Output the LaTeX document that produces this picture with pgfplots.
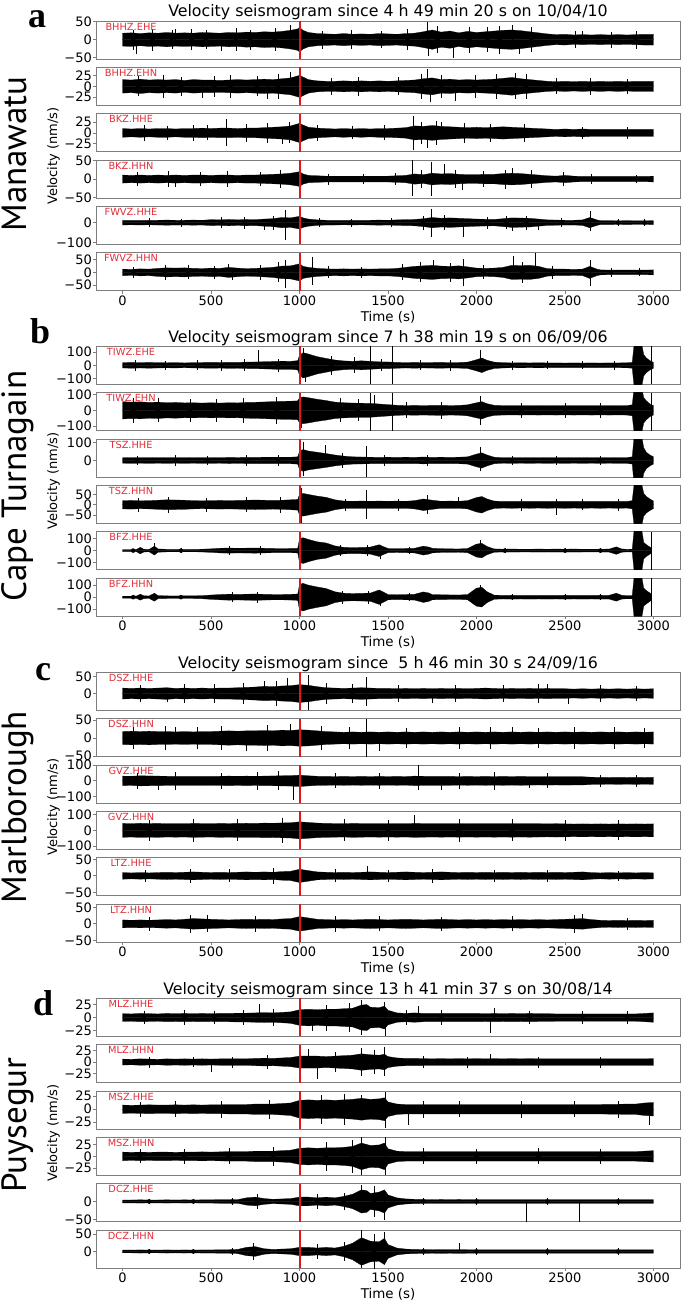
\documentclass[border=0pt]{standalone}
\usepackage{pgfplots}
\pgfplotsset{compat=1.18}
\usepackage{pgfplotstable}
\usepackage{fontspec}
\setmainfont{DejaVu Sans}
\newfontfamily\ptsans{PT Sans}
\newfontfamily\letterfont{Liberation Serif}
\definecolor{stared}{RGB}{225,45,55}
\definecolor{eqred}{RGB}{220,25,25}
\definecolor{spine}{RGB}{125,125,125}
\pgfplotsset{
 panel/.style={width=584pt,height=38pt,scale only axis,
   xmin=-150,xmax=3150,
   axis line style={spine,line width=0.8pt},
   tick style={spine,line width=0.8pt},
   major tick length=3pt, tick align=outside,
   xtick={0,500,1000,1500,2000,2500,3000},
   xticklabels={}, xtick pos=bottom, ytick pos=left,
   xmajorticks=false,
   yticklabel style={font=\fontsize{13}{13}\selectfont, inner sep=1pt},
   xticklabel style={font=\fontsize{13}{13}\selectfont, inner sep=2pt},
 },
 bottompanel/.style={xmajorticks=true, xticklabels={0,500,1000,1500,2000,2500,3000}},
 tr/.style={fill=black,draw=black,line width=0.25pt,mark=none},
 spk/.style={black,line width=0.5pt,mark=none,unbounded coords=jump},
 hairp/.style={black,only marks,mark=none,error bars/.cd,y dir=both,y explicit,error mark=none,error bar style={line width=0.4pt,black}},
}
\newcommand\trace[1]{\addplot[tr] table[x=t,y=a]{#1}\closedcycle;
 \addplot[tr] table[x=t,y expr=-\thisrow{a}]{#1}\closedcycle;}
\newcommand\hair[1]{\addplot[hairp] table[row sep=\\,x=t,y expr=0,y error=h]{t h\\#1};}
\newcommand\panel[8]{%
 \begin{axis}[panel,at={(96pt,-#1pt)},anchor=north west,ymin=#2,ymax=#3,ytick={#4},yticklabels={#5},#7]
 #8
 \addplot[eqred,line width=2pt] coordinates {(1000,#2) (1000,#3)};
 \node[anchor=north,inner sep=0pt,text=stared,font=\fontsize{9.8}{10}\selectfont] at (rel axis cs:0.06,0.955) {#6};
 \end{axis}}

% ---------- group a
\pgfplotstableread[row sep=\\]{t a\\0 18\\50 19\\100 17\\150 19\\200 18\\250 20\\300 18\\350 19\\400 18\\450 20\\500 19\\550 18\\600 20\\650 19\\700 21\\750 20\\800 22\\850 21\\900 23\\950 26\\990 30\\1000 34\\1020 26\\1050 20\\1100 17\\1150 16\\1200 15\\1250 17\\1300 15\\1350 16\\1400 15\\1450 17\\1500 16\\1550 15\\1600 17\\1650 18\\1700 22\\1750 27\\1800 21\\1850 24\\1900 19\\1950 23\\2000 20\\2050 22\\2100 24\\2150 26\\2200 27\\2250 25\\2300 22\\2350 19\\2400 16\\2450 14\\2500 15\\2550 13\\2600 14\\2650 13\\2700 14\\2750 13\\2800 14\\2850 13\\2900 14\\2950 15\\3000 15\\}\TAa
\pgfplotstableread[row sep=\\]{t a\\0 16\\50 15\\100 17\\150 15\\200 16\\250 15\\300 16\\350 14\\400 16\\450 15\\500 15\\550 14\\600 15\\650 16\\700 15\\750 16\\800 17\\850 16\\900 18\\950 20\\1000 26\\1020 22\\1050 16\\1100 13\\1150 12\\1200 12\\1250 13\\1300 12\\1350 13\\1400 12\\1450 13\\1500 12\\1550 13\\1600 14\\1650 15\\1700 18\\1750 20\\1800 16\\1850 17\\1900 15\\1950 16\\2000 15\\2050 16\\2100 17\\2150 19\\2200 21\\2250 18\\2300 16\\2350 14\\2400 12\\2450 11\\2500 12\\2550 11\\2600 12\\2650 11\\2700 12\\2750 11\\2800 12\\2850 11\\2900 12\\2950 12\\3000 12\\}\TAb
\pgfplotstableread[row sep=\\]{t a\\0 10\\50 9\\100 10\\150 9\\200 10\\250 10\\300 9\\350 10\\400 10\\450 11\\500 10\\550 11\\600 11\\650 10\\700 11\\750 11\\800 12\\850 13\\900 14\\950 16\\1000 22\\1020 18\\1050 13\\1100 11\\1150 10\\1200 9\\1250 10\\1300 9\\1350 10\\1400 9\\1450 10\\1500 10\\1550 11\\1600 12\\1650 16\\1700 15\\1750 17\\1800 15\\1850 14\\1900 13\\1950 12\\2000 13\\2050 12\\2100 13\\2150 14\\2200 13\\2250 12\\2300 11\\2350 10\\2400 9\\2450 8\\2500 9\\2550 8\\2600 9\\2650 8\\2700 8\\2750 8\\2800 8\\2850 8\\2900 8\\2950 8\\3000 8\\}\TAc
\pgfplotstableread[row sep=\\]{t a\\0 11\\50 10\\100 11\\150 10\\200 11\\250 10\\300 11\\350 10\\400 11\\450 11\\500 10\\550 11\\600 11\\650 10\\700 11\\750 11\\800 12\\850 13\\900 14\\950 16\\1000 20\\1020 14\\1050 10\\1100 9\\1150 8\\1200 8\\1250 8\\1300 8\\1350 8\\1400 8\\1450 8\\1500 8\\1550 9\\1600 10\\1650 14\\1700 12\\1750 16\\1800 14\\1850 15\\1900 13\\1950 12\\2000 12\\2050 13\\2100 13\\2150 15\\2200 16\\2250 15\\2300 13\\2350 11\\2400 9\\2450 8\\2500 10\\2550 8\\2600 7\\2650 7\\2700 7\\2750 7\\2800 7\\2850 7\\2900 7\\2950 7\\3000 8\\}\TAd
\pgfplotstableread[row sep=\\]{t a\\0 12\\50 11\\100 12\\150 11\\200 12\\250 13\\300 12\\350 12\\400 13\\450 12\\500 15\\550 14\\600 16\\650 14\\700 16\\750 15\\800 18\\850 20\\900 26\\950 24\\1000 32\\1020 24\\1050 18\\1100 14\\1150 12\\1200 12\\1250 11\\1300 12\\1350 11\\1400 12\\1450 13\\1500 12\\1550 14\\1600 15\\1650 16\\1700 20\\1750 26\\1800 22\\1850 24\\1900 22\\1950 20\\2000 18\\2050 17\\2100 16\\2150 20\\2200 24\\2250 23\\2300 22\\2350 18\\2400 14\\2450 13\\2500 12\\2550 12\\2600 14\\2640 26\\2680 14\\2700 10\\2750 10\\2800 9\\2850 10\\2900 9\\2950 9\\3000 10\\}\TAe
\pgfplotstableread[row sep=\\]{t a\\0 13\\50 12\\100 14\\150 13\\200 16\\250 18\\300 17\\350 18\\400 16\\450 15\\500 17\\550 16\\600 20\\650 17\\700 15\\750 16\\800 18\\850 20\\900 25\\950 26\\1000 34\\1020 24\\1050 20\\1100 16\\1150 14\\1200 13\\1250 14\\1300 13\\1350 14\\1400 13\\1450 14\\1500 14\\1550 16\\1600 20\\1650 24\\1700 26\\1750 28\\1800 25\\1850 24\\1900 26\\1950 22\\2000 17\\2050 16\\2100 17\\2150 20\\2200 28\\2250 27\\2300 28\\2350 24\\2400 15\\2450 13\\2500 13\\2550 12\\2600 13\\2640 24\\2680 13\\2700 10\\2750 9\\2800 9\\2850 9\\2900 9\\2950 9\\3000 10\\}\TAf
% ---------- group b
\pgfplotstableread[row sep=\\]{t a\\0 20\\50 22\\100 20\\150 22\\200 20\\250 19\\300 20\\350 18\\400 20\\450 21\\500 22\\550 21\\600 23\\650 22\\700 24\\750 25\\800 27\\850 29\\900 31\\950 30\\990 35\\1000 75\\1020 95\\1050 85\\1100 65\\1150 52\\1200 40\\1250 33\\1300 30\\1350 34\\1400 30\\1450 26\\1500 25\\1550 22\\1600 20\\1650 22\\1700 20\\1750 21\\1800 22\\1850 20\\1900 21\\1950 24\\2000 42\\2030 55\\2060 38\\2100 24\\2150 20\\2200 18\\2250 19\\2300 18\\2350 19\\2400 18\\2450 18\\2500 17\\2550 18\\2600 17\\2650 18\\2700 17\\2750 18\\2800 18\\2850 19\\2880 22\\2890 150\\2935 150\\2945 80\\2960 55\\2980 35\\3000 22\\}\TBa
\pgfplotstableread[row sep=\\]{t a\\0 55\\50 52\\100 54\\150 50\\200 52\\250 48\\300 50\\350 47\\400 48\\450 46\\500 48\\550 46\\600 48\\650 47\\700 50\\750 51\\800 53\\850 55\\900 57\\950 58\\990 60\\1000 80\\1020 85\\1050 80\\1100 70\\1150 62\\1200 52\\1250 48\\1300 46\\1350 45\\1400 44\\1450 40\\1500 36\\1550 32\\1600 30\\1650 31\\1700 30\\1750 31\\1800 32\\1850 30\\1900 31\\1950 35\\2000 48\\2030 55\\2060 42\\2100 32\\2150 30\\2200 29\\2250 30\\2300 29\\2350 30\\2400 29\\2450 30\\2500 29\\2550 30\\2600 29\\2650 30\\2700 29\\2750 30\\2800 29\\2850 30\\2880 35\\2890 135\\2935 135\\2945 80\\2960 60\\2980 40\\3000 30\\}\TBb
\pgfplotstableread[row sep=\\]{t a\\0 15\\50 16\\100 15\\150 16\\200 15\\250 16\\300 15\\350 16\\400 15\\450 16\\500 16\\550 15\\600 17\\650 16\\700 17\\750 17\\800 18\\850 18\\900 18\\950 18\\990 20\\1000 50\\1020 60\\1050 52\\1100 45\\1150 38\\1200 30\\1250 24\\1300 20\\1350 19\\1400 18\\1450 17\\1500 18\\1550 17\\1600 18\\1650 17\\1700 19\\1750 17\\1800 18\\1850 17\\1900 18\\1950 20\\2000 35\\2030 42\\2060 30\\2100 18\\2150 15\\2200 16\\2250 15\\2300 16\\2350 15\\2400 16\\2450 15\\2500 16\\2550 15\\2600 16\\2650 15\\2700 16\\2750 15\\2800 16\\2850 16\\2880 20\\2890 125\\2935 125\\2945 70\\2960 45\\2980 30\\3000 20\\}\TBc
\pgfplotstableread[row sep=\\]{t a\\0 20\\50 21\\100 19\\150 20\\200 22\\250 24\\300 23\\350 22\\400 20\\450 19\\500 20\\550 21\\600 20\\650 21\\700 22\\750 23\\800 22\\850 21\\900 22\\950 24\\990 26\\1000 50\\1020 55\\1050 50\\1100 42\\1150 36\\1200 24\\1250 18\\1300 17\\1350 18\\1400 17\\1450 18\\1500 17\\1550 18\\1600 17\\1650 20\\1700 28\\1750 22\\1800 17\\1850 18\\1900 17\\1950 20\\2000 35\\2030 40\\2060 28\\2100 18\\2150 16\\2200 17\\2250 16\\2300 17\\2350 16\\2400 17\\2450 16\\2500 17\\2550 16\\2600 17\\2650 16\\2700 17\\2750 16\\2800 17\\2850 16\\2880 20\\2890 95\\2935 95\\2945 55\\2960 40\\2980 28\\3000 18\\}\TBd
\pgfplotstableread[row sep=\\]{t a\\0 8\\50 8\\80 10\\100 28\\120 12\\150 10\\180 38\\200 14\\250 11\\300 10\\350 11\\400 10\\450 12\\500 15\\550 20\\600 22\\650 20\\700 21\\750 22\\800 20\\850 18\\900 17\\950 18\\990 20\\1000 100\\1020 110\\1050 95\\1100 75\\1150 65\\1200 40\\1250 28\\1300 25\\1350 27\\1400 30\\1450 50\\1480 30\\1500 18\\1550 16\\1600 18\\1650 20\\1700 38\\1730 30\\1750 20\\1800 16\\1850 15\\1900 14\\1950 18\\2000 55\\2030 62\\2060 35\\2100 14\\2150 12\\2200 13\\2250 12\\2300 12\\2350 13\\2400 12\\2450 13\\2500 12\\2550 13\\2600 12\\2650 12\\2700 12\\2750 13\\2790 32\\2820 14\\2850 11\\2880 12\\2890 165\\2935 165\\2945 70\\2960 50\\2980 30\\2990 20\\}\TBe
\pgfplotstableread[row sep=\\]{t a\\0 8\\50 8\\80 10\\100 25\\120 12\\150 10\\180 33\\200 13\\250 11\\300 10\\350 11\\400 11\\450 13\\500 18\\550 22\\600 25\\650 23\\700 25\\750 26\\800 24\\850 22\\900 22\\950 24\\990 26\\1000 105\\1020 115\\1050 100\\1100 85\\1150 72\\1200 45\\1250 33\\1300 30\\1350 32\\1400 34\\1450 60\\1480 38\\1500 22\\1550 20\\1600 22\\1650 24\\1700 44\\1730 35\\1750 22\\1800 20\\1850 19\\1900 18\\1950 22\\2000 75\\2030 82\\2060 45\\2100 17\\2150 15\\2200 16\\2250 15\\2300 16\\2350 15\\2400 16\\2450 15\\2500 16\\2550 15\\2600 16\\2650 15\\2700 16\\2750 16\\2790 33\\2820 16\\2850 13\\2880 14\\2890 160\\2935 160\\2945 75\\2960 55\\2980 35\\2990 22\\}\TBf
% ---------- group c
\pgfplotstableread[row sep=\\]{t a\\0 16\\50 15\\100 16\\150 15\\200 16\\250 17\\300 15\\350 16\\400 15\\450 16\\500 15\\550 16\\600 16\\650 17\\700 18\\750 19\\800 21\\850 20\\900 22\\950 23\\1000 26\\1050 24\\1100 20\\1150 17\\1200 16\\1250 15\\1300 16\\1350 17\\1400 16\\1450 15\\1500 15\\1550 14\\1600 15\\1650 14\\1700 15\\1750 14\\1800 15\\1850 14\\1900 15\\1950 14\\2000 15\\2050 16\\2100 15\\2150 14\\2200 15\\2250 14\\2300 15\\2350 14\\2400 15\\2450 14\\2500 14\\2550 13\\2600 14\\2650 13\\2700 14\\2750 13\\2800 14\\2850 13\\2900 14\\2950 13\\3000 14\\}\TCa
\pgfplotstableread[row sep=\\]{t a\\0 18\\50 19\\100 18\\150 19\\200 18\\250 18\\300 17\\350 18\\400 17\\450 18\\500 18\\550 19\\600 20\\650 19\\700 20\\750 20\\800 21\\850 20\\900 22\\950 21\\1000 23\\1050 22\\1100 20\\1150 18\\1200 17\\1250 16\\1300 17\\1350 16\\1400 17\\1450 16\\1500 17\\1550 16\\1600 17\\1650 16\\1700 17\\1750 16\\1800 17\\1850 16\\1900 17\\1950 16\\2000 17\\2050 16\\2100 17\\2150 16\\2200 17\\2250 16\\2300 17\\2350 16\\2400 17\\2450 16\\2500 17\\2550 16\\2600 17\\2650 16\\2700 17\\2750 16\\2800 17\\2850 16\\2900 17\\2950 16\\3000 17\\}\TCb
\pgfplotstableread[row sep=\\]{t a\\0 30\\50 29\\100 32\\150 31\\200 30\\250 29\\300 28\\350 29\\400 28\\450 29\\500 28\\550 29\\600 30\\650 29\\700 30\\750 29\\800 30\\850 31\\900 32\\950 33\\1000 36\\1050 32\\1100 29\\1150 28\\1200 27\\1250 28\\1300 27\\1350 28\\1400 27\\1450 28\\1500 27\\1550 28\\1600 27\\1650 30\\1700 29\\1750 28\\1800 29\\1850 28\\1900 27\\1950 28\\2000 27\\2050 28\\2100 27\\2150 28\\2200 27\\2250 28\\2300 27\\2350 26\\2400 27\\2450 26\\2500 27\\2550 26\\2600 26\\2650 23\\2700 22\\2750 21\\2800 22\\2850 21\\2900 22\\2950 21\\3000 22\\}\TCc
\pgfplotstableread[row sep=\\]{t a\\0 44\\50 42\\100 45\\150 43\\200 44\\250 42\\300 43\\350 42\\400 44\\450 43\\500 42\\550 44\\600 43\\650 44\\700 45\\750 44\\800 46\\850 45\\900 47\\950 48\\1000 54\\1050 50\\1100 46\\1150 44\\1200 43\\1250 42\\1300 44\\1350 43\\1400 42\\1450 43\\1500 42\\1550 43\\1600 42\\1650 44\\1700 43\\1750 42\\1800 43\\1850 42\\1900 43\\1950 42\\2000 43\\2050 42\\2100 43\\2150 42\\2200 43\\2250 42\\2300 43\\2350 42\\2400 41\\2450 42\\2500 41\\2550 40\\2600 41\\2650 40\\2700 41\\2750 40\\2800 41\\2850 40\\2900 41\\2950 40\\3000 41\\}\TCd
\pgfplotstableread[row sep=\\]{t a\\0 10\\50 9\\100 10\\150 9\\200 10\\250 11\\300 10\\350 11\\400 12\\450 11\\500 10\\550 11\\600 10\\650 11\\700 12\\750 11\\800 12\\850 11\\900 13\\950 14\\1000 20\\1050 16\\1100 12\\1150 11\\1200 10\\1250 11\\1300 10\\1350 11\\1400 12\\1450 11\\1500 10\\1550 11\\1600 12\\1650 11\\1700 10\\1750 11\\1800 12\\1850 11\\1900 10\\1950 11\\2000 10\\2050 11\\2100 10\\2150 11\\2200 10\\2250 11\\2300 10\\2350 11\\2400 10\\2450 11\\2500 10\\2550 11\\2600 12\\2650 10\\2700 9\\2750 10\\2800 9\\2850 10\\2900 9\\2950 10\\3000 9\\}\TCe
\pgfplotstableread[row sep=\\]{t a\\0 12\\50 11\\100 12\\150 11\\200 12\\250 13\\300 12\\350 14\\400 16\\450 15\\500 14\\550 13\\600 12\\650 13\\700 14\\750 13\\800 14\\850 13\\900 15\\950 16\\1000 22\\1050 18\\1100 14\\1150 13\\1200 12\\1250 13\\1300 12\\1350 13\\1400 14\\1450 13\\1500 12\\1550 13\\1600 14\\1650 13\\1700 12\\1750 13\\1800 14\\1850 13\\1900 12\\1950 13\\2000 12\\2050 13\\2100 12\\2150 13\\2200 12\\2250 13\\2300 12\\2350 13\\2400 12\\2450 13\\2500 14\\2550 15\\2600 16\\2650 13\\2700 11\\2750 10\\2800 11\\2850 10\\2900 11\\2950 10\\3000 11\\}\TCf
% ---------- group d
\pgfplotstableread[row sep=\\]{t a\\0 7.5\\50 7\\100 8\\150 7.5\\200 7\\250 8\\300 7.5\\350 8\\400 7.5\\450 8\\500 7.5\\550 8\\600 8\\650 8.5\\700 8.5\\750 9\\800 9.5\\850 9\\900 10\\950 11\\1000 15\\1050 16\\1100 15\\1150 16\\1200 16\\1250 17\\1300 18\\1350 24\\1380 25\\1400 20\\1450 19\\1480 22\\1500 14\\1550 9\\1600 8\\1650 9\\1700 8\\1750 8\\1800 8\\1850 8\\1900 8\\1950 8\\2000 8\\2050 7.5\\2100 8\\2150 7.5\\2200 8\\2250 7.5\\2300 8\\2350 7.5\\2400 7.5\\2450 7\\2500 7\\2550 7\\2600 7\\2650 7\\2700 7\\2750 7\\2800 7\\2850 7\\2900 7\\2950 8\\3000 9\\}\TDa
\pgfplotstableread[row sep=\\]{t a\\0 6.5\\50 6\\100 7\\150 6.5\\200 6\\250 7\\300 6.5\\350 7\\400 6.5\\450 7\\500 6.5\\550 7\\600 7\\650 7\\700 7\\750 8\\800 8.5\\850 8\\900 9\\950 10\\1000 13\\1050 13\\1100 13\\1150 12\\1200 13\\1250 14\\1300 15\\1350 18\\1400 16\\1450 15\\1480 17\\1500 12\\1550 9\\1600 8\\1650 8\\1700 7.5\\1750 7\\1800 7.5\\1850 7\\1900 7.5\\1950 7\\2000 7.5\\2050 7\\2100 7.5\\2150 7\\2200 7.5\\2250 7\\2300 7.5\\2350 7\\2400 7\\2450 7\\2500 7\\2550 7\\2600 7\\2650 7\\2700 7\\2750 7\\2800 7\\2850 7\\2900 7\\2950 7\\3000 7.5\\}\TDb
\pgfplotstableread[row sep=\\]{t a\\0 8\\50 7.5\\100 8\\150 8.5\\200 8\\250 8\\300 8.5\\350 8\\400 8.5\\450 8\\500 8.5\\550 8.5\\600 9\\650 9\\700 9\\750 10\\800 10\\850 10\\900 11\\950 12\\1000 17\\1050 18\\1100 17\\1150 18\\1200 17\\1250 18\\1300 19\\1350 21\\1400 19\\1450 20\\1480 22\\1500 14\\1550 10\\1600 9\\1650 9\\1700 9\\1750 9\\1800 9\\1850 9\\1900 9\\1950 9\\2000 9\\2050 9\\2100 9\\2150 9\\2200 9\\2250 9\\2300 9\\2350 9\\2400 9\\2450 9\\2500 9\\2550 9\\2600 9\\2650 9\\2700 9\\2750 9.5\\2800 9.5\\2850 10\\2900 10\\2950 12\\3000 13\\}\TDc
\pgfplotstableread[row sep=\\]{t a\\0 9\\50 8.5\\100 9\\150 8.5\\200 9\\250 9\\300 8.5\\350 9\\400 9\\450 9.5\\500 9\\550 9.5\\600 10\\650 10\\700 10\\750 11\\800 11\\850 11\\900 12\\950 13\\1000 17\\1050 18\\1100 17\\1150 18\\1200 18\\1250 19\\1300 21\\1350 28\\1400 23\\1450 24\\1480 28\\1500 16\\1550 11\\1600 10\\1650 10\\1700 10\\1750 10\\1800 10\\1850 10\\1900 10\\1950 10\\2000 10\\2050 10\\2100 10\\2150 10\\2200 10\\2250 10\\2300 10\\2350 10\\2400 10\\2450 10\\2500 10\\2550 10\\2600 10\\2650 10\\2700 10\\2750 10\\2800 10\\2850 10\\2900 10\\2950 11\\3000 12\\}\TDd
\pgfplotstableread[row sep=\\]{t a\\0 4\\50 4\\100 4.5\\150 4\\200 4\\250 4.5\\300 4\\350 4.5\\400 4\\450 4.5\\500 4.5\\550 5\\600 5\\650 5\\700 10\\750 12\\800 8\\850 6\\900 7\\950 8\\1000 12\\1050 12\\1100 10\\1150 12\\1200 10\\1250 14\\1300 20\\1350 32\\1380 30\\1400 22\\1450 26\\1480 32\\1500 18\\1550 10\\1600 7\\1650 6\\1700 5.5\\1750 5\\1800 5.5\\1850 5\\1900 5.5\\1950 5\\2000 5\\2050 5\\2100 5\\2150 5\\2200 5\\2250 5\\2300 5\\2350 5\\2400 5\\2450 5\\2500 5\\2550 5\\2600 5\\2650 5\\2700 5\\2750 5\\2800 5\\2850 5\\2900 5\\2950 5\\3000 5\\}\TDe
\pgfplotstableread[row sep=\\]{t a\\0 4\\50 4\\100 4.5\\150 4\\200 4\\250 4.5\\300 4\\350 4.5\\400 4\\450 4.5\\500 4.5\\550 5\\600 5\\650 6\\700 12\\750 14\\800 8\\850 6\\900 7\\950 8\\1000 12\\1050 12\\1100 10\\1150 12\\1200 10\\1250 15\\1300 24\\1350 40\\1400 30\\1450 28\\1480 38\\1500 20\\1550 10\\1600 7\\1650 6\\1700 5.5\\1750 5\\1800 5.5\\1850 5\\1900 5.5\\1950 5\\2000 5\\2050 5\\2100 5\\2150 5\\2200 5\\2250 5\\2300 5\\2350 5\\2400 5\\2450 5\\2500 5\\2550 5\\2600 5\\2650 5\\2700 5\\2750 5\\2800 5\\2850 5\\2900 5\\2950 5\\3000 5\\}\TDf

\begin{document}
\begin{tikzpicture}
\useasboundingbox (0,0) rectangle (685pt,-1308pt);
% ===== group a
\panel{21}{-54}{52}{-50,0,50}{−50,0,50}{BHHZ.EHE}{}{\trace{\TAa}
 \hair{60 28\\170 31\\280 27\\390 30\\470 26\\640 32\\720 28\\860 33\\1130 25\\1290 27\\1460 24\\1610 29\\1780 38\\1960 36\\2060 35\\2130 39\\2310 34\\2560 24\\2760 22\\2900 25\\}
 \addplot[spk] coordinates {(80,-40)(80,0)(80,nan)(950,-20)(950,42)(950,nan)(1000,-54)(1000,52)(1000,nan)(1720,-20)(1720,48)(1720,nan)(1730,-45)(1730,0)(1730,nan)(1870,-50)(1870,0)(1870,nan)(2200,0)(2200,40)(2200,nan)(2240,-40)(2240,0)(2240,nan)(300,0)(300,30)(300,nan)(560,-32)(560,0)(560,nan)(2600,0)(2600,25)};}
\panel{67.35}{-45}{45}{-25,0,25}{−25,0,25}{BHHZ.EHN}{}{\trace{\TAb}
 \hair{90 24\\230 27\\330 22\\520 25\\610 28\\760 24\\880 29\\1180 20\\1330 22\\1560 21\\1690 30\\1800 28\\1990 27\\2110 30\\2280 29\\2450 19\\2640 20\\2850 18\\}
 \addplot[spk] coordinates {(950,0)(950,35)(950,nan)(1000,-42)(1000,44)(1000,nan)(1720,0)(1720,40)(1720,nan)(1740,-38)(1740,0)(1740,nan)(1880,-35)(1880,0)(1880,nan)(2220,-30)(2220,32)(2220,nan)(450,-28)(450,0)(450,nan)(820,-30)(820,0)};}
\panel{113.7}{-43}{44}{-25,0,25}{−25,0,25}{BKZ.HHE}{}{\trace{\TAc}
 \hair{120 18\\250 16\\400 19\\480 17\\700 20\\820 22\\940 24\\1100 18\\1300 15\\1480 17\\1690 26\\1770 27\\1930 22\\2080 21\\2270 20\\2600 14\\2850 13\\}
 \addplot[spk] coordinates {(588,-29)(588,32)(588,nan)(1000,-42)(1000,44)(1000,nan)(1640,-40)(1640,38)(1640,nan)(1720,-35)(1720,0)(1720,nan)(1800,0)(1800,25)(1800,nan)(900,-25)(900,0)};}
\panel{160.05}{-52}{52}{-50,0,50}{−50,0,50}{BKZ.HHN}{}{\trace{\TAd}
 \hair{80 19\\260 21\\440 18\\590 22\\780 20\\890 24\\1160 15\\1360 14\\1540 16\\1690 24\\1880 25\\2040 22\\2160 26\\2310 24\\2650 13\\2900 12\\}
 \addplot[spk] coordinates {(1000,-46)(1000,52)(1000,nan)(1636,-46)(1636,52)(1636,nan)(1746,-46)(1746,47)(1746,nan)(1820,0)(1820,42)(1820,nan)(1920,-30)(1920,0)(1920,nan)(2490,-20)(2490,20)(2490,nan)(2200,0)(2200,30)(2200,nan)(300,-22)(300,0)};}
\panel{206.4}{-110}{82}{-100,0}{−100,0}{FWVZ.HHE}{}{\trace{\TAe}
 \hair{150 22\\330 20\\560 27\\690 30\\850 36\\1110 24\\1290 20\\1520 22\\1700 35\\1820 38\\2060 30\\2170 34\\2280 36\\2480 22\\2800 18\\2950 17\\}
 \addplot[spk] coordinates {(920,-90)(920,65)(920,nan)(1000,-98)(1000,80)(1000,nan)(1746,-73)(1746,68)(1746,nan)(1925,-73)(1925,0)(1925,nan)(2200,-40)(2200,0)(2200,nan)(2640,-43)(2640,60)(2640,nan)(2350,-35)(2350,0)(2350,nan)(800,-35)(800,0)};}
\panel{252.75}{-73}{78}{-50,0,50}{−50,0,50}{FWVZ.HHN}{bottompanel}{\trace{\TAf}
 \hair{60 22\\240 30\\370 28\\520 27\\780 30\\880 40\\1160 24\\1350 22\\1580 32\\1680 40\\1850 38\\2040 28\\2260 42\\2430 25\\2760 17\\2920 16\\}
 \addplot[spk] coordinates {(920,-62)(920,48)(920,nan)(1000,-72)(1000,78)(1000,nan)(1072,-49)(1072,61)(1072,nan)(1755,0)(1755,48)(1755,nan)(1925,-56)(1925,55)(1925,nan)(2210,0)(2210,64)(2210,nan)(2330,0)(2330,76)(2330,nan)(2640,-53)(2640,48)(2640,nan)(600,0)(600,33)(600,nan)(620,-30)(620,0)};}
% ===== group b
\panel{346.3}{-143}{143}{-100,0,100}{−100,0,100}{TIWZ.EHE}{}{\trace{\TBa}
 \hair{70 40\\240 36\\420 38\\560 42\\690 45\\880 50\\1180 70\\1310 60\\1460 45\\1680 38\\1850 40\\2200 32\\2400 30\\2600 30\\2780 32\\}
 \addplot[spk] coordinates {(767,0)(767,118)(767,nan)(1398,-143)(1398,143)(1398,nan)(1526,-143)(1526,143)(1526,nan)(1020,0)(1020,133)(1020,nan)(1030,-125)(1030,0)(1030,nan)(2020,0)(2020,113)(2020,nan)(2989,-143)(2989,143)};}
\panel{392.65}{-129}{112}{-100,0,100}{−100,0,100}{TIWZ.EHN}{}{\trace{\TBb}
 \hair{60 80\\200 75\\380 72\\530 74\\680 78\\870 85\\1230 75\\1330 70\\1600 50\\1800 52\\2250 48\\2500 46\\2700 48\\}
 \addplot[spk] coordinates {(1000,0)(1000,112)(1000,nan)(1010,-110)(1010,0)(1010,nan)(1398,-129)(1398,112)(1398,nan)(1526,-129)(1526,112)(1526,nan)(2020,-94)(2020,90)(2020,nan)(2989,-129)(2989,112)(2989,nan)(1420,0)(1420,95)};}
\panel{439}{-91}{118}{0,100}{0,100}{TSZ.HHE}{}{\trace{\TBc}
 \hair{80 26\\300 28\\480 25\\700 30\\880 32\\1240 40\\1480 30\\1720 32\\2200 26\\2450 25\\2700 27\\}
 \addplot[spk] coordinates {(1021,-87)(1021,104)(1021,nan)(1144,0)(1144,86)(1144,nan)(1375,-91)(1375,80)(1375,nan)(2020,-60)(2020,76)};}
\panel{485.35}{-90}{94}{-50,0,50}{−50,0,50}{TSZ.HHN}{}{\trace{\TBd}
 \hair{90 34\\260 40\\470 33\\700 36\\890 38\\1260 30\\1560 28\\1720 45\\2250 28\\2600 27\\2800 28\\}
 \addplot[spk] coordinates {(1010,-87)(1010,80)(1010,nan)(1375,-70)(1375,70)(1375,nan)(1897,0)(1897,40)(1897,nan)(2449,-48)(2449,30)};}
\panel{531.7}{-163}{161}{-100,0,100}{−100,0,100}{BFZ.HHE}{}{\trace{\TBe}
 \hair{60 14\\330 18\\600 36\\780 38\\1230 50\\1380 48\\1620 30\\2160 22\\2500 20\\2700 21\\}
 \addplot[spk] coordinates {(180,0)(180,62)(180,nan)(1000,-163)(1000,147)(1000,nan)(2020,0)(2020,90)(2020,nan)(2989,-163)(2989,161)(2989,nan)(1454,-75)(1454,0)};}
\panel{578.05}{-157}{159}{-100,0,100}{−100,0,100}{BFZ.HHN}{bottompanel}{\trace{\TBf}
 \hair{60 14\\330 18\\620 42\\760 45\\1240 55\\1390 55\\1620 35\\2200 26\\2500 25\\2700 26\\}
 \addplot[spk] coordinates {(1000,-128)(1000,145)(1000,nan)(2020,0)(2020,104)(2020,nan)(1454,-70)(1454,0)(1454,nan)(2989,-157)(2989,159)};}
% ===== group c
\panel{672.3}{-49}{62}{0,50}{0,50}{DSZ.HHE}{}{\trace{\TCa}
 \hair{100 26\\350 28\\520 27\\680 30\\870 36\\1150 30\\1300 27\\1560 25\\1880 26\\2150 25\\2350 27\\2700 24\\2900 23\\}
 \addplot[spk] coordinates {(800,0)(800,37)(800,nan)(930,0)(930,45)(930,nan)(1050,-49)(1050,53)(1050,nan)(1375,-36)(1375,48)(1375,nan)(250,-25)(250,0)(250,nan)(2518,-30)(2518,0)(2518,nan)(1750,-28)(1750,0)(1750,nan)(2400,0)(2400,28)};}
\panel{718.65}{-52}{54}{-50,0,50}{−50,0,50}{DSZ.HHN}{}{\trace{\TCb}
 \hair{60 30\\240 33\\420 31\\560 34\\820 36\\1120 34\\1280 30\\1600 29\\1900 31\\2080 30\\2350 29\\2550 31\\2780 30\\2950 28\\}
 \addplot[spk] coordinates {(1375,-52)(1375,54)(1375,nan)(950,0)(950,40)(950,nan)(1000,-40)(1000,45)(1000,nan)(1450,-35)(1450,0)(1450,nan)(700,-35)(700,0)(700,nan)(300,0)(300,32)(300,nan)(2200,0)(2200,30)};}
\panel{765}{-140}{100}{-100,0,100}{−100,0,100}{GVZ.HHE}{}{\trace{\TCc}
 \hair{80 50\\300 55\\560 52\\760 55\\880 60\\1200 48\\1450 50\\1900 52\\2100 55\\2400 48\\2700 40\\2900 38\\}
 \addplot[spk] coordinates {(965,-120)(965,0)(965,nan)(1000,0)(1000,70)(1000,nan)(1671,-60)(1671,100)(1671,nan)(1800,-60)(1800,0)(1800,nan)(200,-55)(200,0)(200,nan)(2300,-45)(2300,0)};}
\panel{811.35}{-120}{120}{-100,0,100}{−100,0,100}{GVZ.HHN}{}{\trace{\TCd}
 \hair{150 68\\400 72\\650 70\\900 78\\1250 70\\1500 68\\1900 72\\2200 70\\2500 66\\2800 64\\}
 \addplot[spk] coordinates {(1000,-85)(1000,85)(1000,nan)(1650,0)(1650,95)};}
\panel{857.7}{-60}{55}{-50,0,50}{−50,0,50}{LTZ.HHE}{}{\trace{\TCe}
 \hair{130 18\\380 22\\600 20\\850 24\\1200 20\\1500 19\\1750 22\\2100 19\\2400 18\\2800 16\\}
 \addplot[spk] coordinates {(1000,-35)(1000,35)(1000,nan)(1380,0)(1380,30)};}
\panel{904.05}{-55}{60}{-50,0,50}{−50,0,50}{LTZ.HHN}{bottompanel}{\trace{\TCf}
 \hair{150 22\\380 28\\480 26\\750 24\\1200 24\\1450 23\\1800 22\\2200 23\\2550 28\\2850 19\\}
 \addplot[spk] coordinates {(1000,-35)(1000,40)(1000,nan)(2600,0)(2600,30)};}
% ===== group d
\panel{998.3}{-36}{37}{-25,0,25}{−25,0,25}{MLZ.HHE}{}{\trace{\TDa}
 \hair{120 13\\350 14\\520 13\\680 15\\850 17\\1150 25\\1280 28\\1600 15\\1800 14\\2300 13\\2600 12\\2850 13\\}
 \addplot[spk] coordinates {(770,0)(770,27)(770,nan)(1000,-20)(1000,30)(1000,nan)(1350,-33)(1350,33)(1350,nan)(1480,0)(1480,30)(1480,nan)(1485,-36)(1485,0)(1485,nan)(2076,-29)(2076,0)(2076,nan)(1670,0)(1670,22)(1670,nan)(2100,0)(2100,18)(2100,nan)(1070,-25)(1070,0)};}
\panel{1044.65}{-45}{38}{-25,0,25}{−25,0,25}{MLZ.HHN}{}{\trace{\TDb}
 \hair{150 12\\400 11\\620 12\\820 15\\1200 22\\1420 26\\1700 13\\1950 12\\2350 12\\2700 12\\}
 \addplot[spk] coordinates {(1050,0)(1050,29)(1050,nan)(1100,-36)(1100,0)(1100,nan)(1350,-30)(1350,31)(1350,nan)(1480,-30)(1480,32)(1480,nan)(2076,0)(2076,18)(2076,nan)(500,-22)(500,0)};}
\panel{1091}{-38}{35}{-25,0,25}{−25,0,25}{MSZ.HHE}{}{\trace{\TDc}
 \hair{100 14\\300 15\\560 16\\830 18\\1120 28\\1250 30\\1700 16\\1900 15\\2250 16\\2550 15\\2800 16\\}
 \addplot[spk] coordinates {(1000,-30)(1000,30)(1000,nan)(1483,-36)(1483,34)(1483,nan)(1350,0)(1350,28)(1350,nan)(1614,-30)(1614,0)(1614,nan)(2975,-30)(2975,0)};}
\panel{1137.35}{-40}{40}{-25,0,25}{−25,0,25}{MSZ.HHN}{}{\trace{\TDd}
 \hair{100 15\\350 16\\600 17\\850 20\\1150 30\\1300 34\\1700 17\\2000 16\\2350 17\\2700 16\\}
 \addplot[spk] coordinates {(1350,-40)(1350,40)(1350,nan)(1485,-40)(1485,40)};}
\panel{1183.7}{-56}{49}{-50,0}{−50,0}{DCZ.HHE}{}{\trace{\TDe}
 \hair{150 8\\400 8\\620 9\\760 20\\1100 20\\1250 24\\1420 42\\1700 10\\2000 9\\2400 9\\2800 9\\}
 \addplot[spk] coordinates {(2280,-56)(2280,0)(2280,nan)(2580,-56)(2580,0)(2580,nan)(1350,0)(1350,45)(1350,nan)(1480,-50)(1480,0)};}
\panel{1230.05}{-48}{62}{0,50}{0,50}{DCZ.HHN}{bottompanel}{\trace{\TDf}
 \hair{150 8\\400 8\\620 10\\740 24\\1100 22\\1250 28\\1420 50\\1700 10\\2000 9\\2400 9\\2800 9\\}
 \addplot[spk] coordinates {(1350,-48)(1350,62)(1350,nan)(1480,0)(1480,55)(1480,nan)(1900,0)(1900,25)};}
% ===== texts
\foreach \ty/\tt in {17/{Velocity seismogram since 4 h 49 min 20 s on 10/04/10},342.3/{Velocity seismogram since 7 h 38 min 19 s on 06/09/06},668.3/{Velocity seismogram since\ \ 5 h 46 min 30 s 24/09/16},994.3/{Velocity seismogram since 13 h 41 min 37 s on 30/08/14}}
 \node[anchor=base,inner sep=0pt,font=\fontsize{15.8}{16}\selectfont] at (388pt,-\ty pt) {\tt};
\foreach \ty in {321,646,972,1298}
 \node[anchor=base,inner sep=0pt,font=\fontsize{13.4}{14}\selectfont] at (388pt,-\ty pt) {Time (s)};
\foreach \ty in {156,481,807,1133}
 \node[rotate=90,anchor=base,inner sep=0pt,font=\fontsize{13}{13}\selectfont] at (57pt,-\ty pt) {Velocity (nm/s)};
\foreach \ty/\tt in {154/Manawatu,486/{Cape Turnagain},807/Marlborough,1125/Puysegur}
 \node[rotate=90,anchor=base,inner sep=0pt,font=\ptsans\fontsize{35}{35}\selectfont] at (27pt,-\ty pt) {\tt};
\foreach \tx/\ty/\tt in {28/28/a,30/343/b,35/680/c,33/1015/d}
 \node[anchor=base west,inner sep=0pt,font=\letterfont\bfseries\fontsize{36}{36}\selectfont] at (\tx pt,-\ty pt) {\tt};
\end{tikzpicture}
\end{document}
